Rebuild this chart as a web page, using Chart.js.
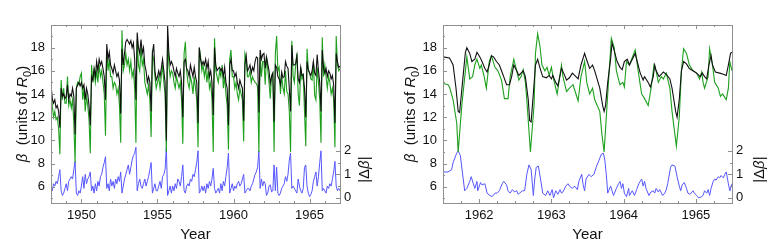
<!DOCTYPE html>
<html>
<head>
<meta charset="utf-8">
<script src="https://cdn.jsdelivr.net/npm/chart.js@4/dist/chart.umd.min.js"></script>
<style>
  html, body { margin: 0; padding: 0; background: #fff; }
  #wrap { position: relative; width: 776px; height: 247px; }
  canvas { position: absolute; top: 0; }
</style>
</head>
<body>
<div id="wrap">
  <canvas id="cLeft" width="388" height="247" style="left:0"></canvas>
  <canvas id="cRight" width="388" height="247" style="left:388px"></canvas>
</div>
<script>
// ---- data: left panel, monthly samples from 1948.0 ----
const leftStart = 1948;
const leftStep = 1 / 12;

const leftBlack = [
  14.8, 13.6, 13.2, 13.5, 12.8, 13.0, 12.5, 11.1, 14.5, 13.8, 14.0, 13.6,
  13.8, 14.8, 13.5, 14.0, 13.8, 14.5, 13.8, 10.5, 14.5, 14.8, 15.0, 14.7,
  15.0, 14.5, 14.8, 13.5, 14.5, 14.0, 13.0, 11.3, 15.5, 15.2, 16.2, 15.5,
  16.8, 16.0, 17.0, 16.5, 16.8, 16.2, 15.5, 13.5, 18.3, 17.0, 17.6, 16.5,
  16.2, 15.8, 16.5, 16.0, 15.5, 15.8, 15.2, 12.3, 17.9, 16.5, 17.5, 18.5,
  18.7, 18.5, 18.3, 18.6, 18.0, 18.4, 17.0, 13.5, 19.3, 18.0, 17.5, 18.7,
  17.5, 18.0, 16.5, 16.0, 15.0, 15.5, 15.0, 12.5, 17.5, 18.3, 16.0, 15.2,
  15.5, 16.0, 15.5, 16.2, 17.0, 16.0, 15.0, 10.0, 19.9, 17.5, 16.5, 16.8,
  16.5, 16.0, 15.5, 16.2, 15.8, 15.5, 16.0, 15.0, 12.0, 16.8, 17.0, 16.2,
  16.0, 15.5, 16.5, 16.0, 15.5, 16.3, 15.5, 15.0, 11.5, 18.0, 17.0, 16.5,
  16.8, 16.5, 17.0, 16.2, 16.8, 15.5, 16.0, 15.0, 12.2, 18.0, 16.5, 16.0,
  16.2, 16.3, 16.0, 16.2, 15.5, 16.3, 15.0, 14.5, 11.3, 16.5, 17.0, 16.0,
  16.0, 15.5, 15.8, 15.0, 14.5, 15.2, 14.8, 14.5, 11.7, 16.5, 17.3, 16.0,
  16.2, 16.5, 15.8, 16.3, 16.0, 16.8, 17.2, 17.1, 12.4, 17.8, 17.0, 17.4,
  17.5, 16.2, 17.2, 16.6, 16.0, 14.9, 15.5, 15.8, 11.6, 16.5, 16.3, 15.5,
  15.3, 14.8, 15.9, 15.4, 15.5, 16.8, 16.4, 16.2, 14.5, 12.5, 18.2, 16.5,
  16.5, 16.6, 17.3, 15.3, 15.0, 16.3, 15.6, 15.7, 14.5, 12.0, 16.8, 16.1,
  15.8, 15.6, 16.0, 16.8, 15.8, 15.6, 17.4, 16.0, 15.0, 12.5, 17.8, 16.2,
  15.8, 16.2, 15.5, 16.0, 15.8, 15.3, 15.6, 14.8, 11.5, 17.5, 16.8, 16.3,
  16.4
];

const leftGreen = [
  15.0, 13.0, 12.0, 12.5, 11.8, 12.0, 11.0, 8.8, 15.2, 13.5, 14.5, 13.2,
  13.2, 15.5, 13.0, 13.5, 12.8, 13.5, 11.5, 8.1, 14.5, 15.0, 14.8, 15.5,
  15.8, 13.5, 14.5, 12.5, 13.8, 13.0, 11.8, 8.9, 16.5, 15.0, 16.0, 15.0,
  16.0, 15.0, 16.5, 15.5, 16.0, 15.0, 14.0, 10.4, 17.8, 16.0, 17.0, 15.5,
  15.5, 14.5, 15.0, 14.8, 14.0, 14.5, 13.0, 9.8, 19.5, 16.0, 16.5, 17.5,
  16.5, 17.0, 16.0, 16.8, 15.5, 16.0, 14.5, 9.8, 18.7, 16.5, 16.0, 18.0,
  16.5, 17.0, 15.0, 14.5, 14.0, 14.8, 13.5, 10.3, 17.5, 17.0, 15.5, 14.5,
  15.0, 15.5, 14.5, 15.5, 16.5, 15.0, 14.0, 9.0, 19.0, 16.5, 15.5, 16.0,
  15.8, 15.0, 14.5, 15.5, 15.0, 14.5, 15.0, 13.5, 9.7, 17.5, 18.5, 16.0,
  15.0, 14.5, 15.5, 15.0, 14.0, 15.5, 14.5, 13.5, 9.4, 18.0, 17.2, 16.0,
  16.5, 15.5, 16.2, 15.0, 16.0, 14.5, 15.0, 13.5, 9.0, 18.8, 16.0, 15.5,
  15.0, 16.0, 15.5, 16.5, 14.5, 15.5, 14.0, 13.0, 9.2, 17.0, 17.8, 15.5,
  15.5, 14.5, 15.0, 14.0, 13.5, 14.5, 14.0, 13.5, 9.9, 17.5, 17.0, 15.5,
  15.5, 16.0, 15.0, 15.5, 15.2, 15.0, 14.9, 14.6, 9.0, 17.2, 15.5, 16.8,
  16.8, 14.8, 17.2, 16.1, 15.0, 13.6, 15.6, 15.8, 9.0, 17.5, 19.0, 16.0,
  16.3, 14.0, 15.6, 14.5, 14.0, 16.0, 14.2, 14.0, 12.5, 9.0, 18.6, 15.5,
  15.0, 16.5, 17.5, 14.0, 13.0, 16.3, 15.3, 15.6, 12.5, 9.5, 17.9, 16.1,
  15.8, 15.3, 15.2, 16.8, 13.9, 13.5, 16.3, 15.0, 13.5, 9.8, 18.9, 15.5,
  16.5, 15.5, 14.5, 15.5, 15.0, 14.0, 14.5, 13.5, 9.4, 19.0, 16.5, 16.0,
  16.2
];

const leftBlue = [
  0.4, 0.3, 0.6, 0.5, 0.7, 0.6, 0.9, 1.2, 0.3, 0.1, 0.2, 0.4,
  0.6, 0.3, 0.7, 0.8, 0.9, 0.8, 1.2, 1.55, 0.2, 0.1, 0.3, 0.2,
  0.5, 0.9, 0.4, 1.0, 0.6, 0.8, 0.9, 1.1, 0.3, 0.5, 0.2, 0.6,
  0.3, 0.7, 0.5, 0.9, 1.0, 1.3, 1.5, 1.75, 0.4, 0.6, 0.3, 0.8,
  0.5, 0.7, 0.4, 0.8, 0.6, 0.9, 0.7, 1.1, 0.2, 0.5, 0.8, 1.0,
  1.2, 1.4, 1.0, 1.3, 1.6, 1.8, 1.9, 2.15, 0.3, 0.6, 0.8, 0.5,
  0.4, 0.6, 0.8, 0.5, 0.7, 0.9, 1.2, 1.5, 0.2, 0.4, 0.6, 0.3,
  0.3, 0.5, 0.7, 0.4, 0.9, 1.0, 1.2, 2.15, 0.1, 0.3, 0.5, 0.2,
  0.5, 0.3, 0.6, 0.4, 0.8, 0.7, 0.5, 0.9, 1.4, 0.3, 0.2, 0.5,
  0.6, 0.5, 0.8, 0.7, 1.0, 0.9, 1.2, 1.5, 2.0, 0.2, 0.3, 0.5,
  0.3, 0.5, 0.2, 0.6, 0.4, 0.7, 0.5, 0.8, 1.25, 0.4, 0.2, 0.3,
  0.4, 0.2, 0.6, 0.3, 0.7, 0.5, 0.9, 1.3, 1.9, 0.2, 0.4, 0.6,
  0.3, 0.5, 0.4, 0.6, 0.7, 0.5, 0.6, 0.8, 1.0, 0.2, 0.3, 0.4,
  0.4, 0.3, 0.5, 0.6, 0.8, 1.0, 1.1, 1.3, 2.0, 0.4, 0.8, 0.5,
  0.7, 0.6, 0.1, 0.2, 0.5, 0.55, 0.25, 0.3, 1.4, 0.3, 1.3, 0.2,
  0.1, 0.2, 0.4, 0.5, 0.6, 0.9, 0.7, 1.0, 1.6, 1.9, 0.4, 0.5,
  0.4, 0.3, 0.2, 0.8, 0.5, 0.3, 0.2, 0.4, 1.3, 1.4, 0.5, 0.2,
  0.05, 0.15, 0.3, 0.7, 0.9, 1.1, 0.5, 0.9, 1.5, 2.0, 0.3, 0.4,
  0.3, 0.2, 0.5, 0.4, 0.6, 0.5, 0.8, 1.1, 1.55, 0.5, 0.3, 0.4,
  0.3
];

// ---- data: right panel (1961.5 - 1965.5) ----
const rightBlackT = [
  1961.50, 1961.59, 1961.64, 1961.68, 1961.71, 1961.73, 1961.77, 1961.81, 1961.83, 1961.87,
  1961.90, 1961.94, 1961.97, 1962.01, 1962.04, 1962.08, 1962.11, 1962.14, 1962.17, 1962.20,
  1962.24, 1962.28, 1962.31, 1962.34, 1962.38, 1962.42, 1962.45, 1962.48, 1962.52, 1962.55,
  1962.58, 1962.61, 1962.64, 1962.68, 1962.70, 1962.72, 1962.75, 1962.78, 1962.81, 1962.84,
  1962.88, 1962.93, 1962.97, 1963.00, 1963.02, 1963.06, 1963.09, 1963.14, 1963.17, 1963.21,
  1963.25, 1963.29, 1963.34, 1963.37, 1963.41, 1963.46, 1963.48, 1963.53, 1963.57, 1963.60,
  1963.67, 1963.71, 1963.73, 1963.75, 1963.78, 1963.82, 1963.84, 1963.88, 1963.91, 1963.95,
  1963.98, 1964.01, 1964.05, 1964.08, 1964.16, 1964.20, 1964.23, 1964.27, 1964.29, 1964.34,
  1964.37, 1964.41, 1964.43, 1964.45, 1964.49, 1964.52, 1964.55, 1964.59, 1964.64, 1964.67,
  1964.72, 1964.74, 1964.77, 1964.80, 1964.83, 1964.87, 1964.91, 1964.96, 1965.01, 1965.06,
  1965.09, 1965.12, 1965.15, 1965.18, 1965.21, 1965.23, 1965.27, 1965.33, 1965.38, 1965.42,
  1965.45, 1965.48, 1965.50
];
const rightBlackV = [
  17.2, 17.1, 16.5, 14.5, 12.5, 12.4, 15.0, 17.6, 18.0, 17.5,
  16.8, 17.0, 17.6, 17.2, 16.8, 16.2, 15.9, 16.5, 17.3, 17.2,
  16.8, 16.5, 16.0, 15.5, 14.8, 14.8, 15.5, 16.5, 16.0, 15.6,
  15.8, 16.0, 15.5, 13.5, 11.7, 11.6, 14.0, 16.5, 17.0, 16.3,
  15.5, 15.4, 15.6, 15.3, 15.6, 15.0, 14.7, 16.2, 15.8, 15.2,
  15.4, 15.8, 15.5, 15.3, 16.5, 17.5, 17.1, 16.2, 16.5, 16.0,
  14.5, 13.0, 12.5, 13.0, 15.0, 17.0, 18.4, 17.5, 16.8, 16.3,
  16.1, 16.8, 17.0, 16.5, 17.5, 16.5, 15.8, 15.2, 15.5, 15.0,
  14.6, 15.5, 16.5, 16.0, 15.5, 15.7, 15.9, 15.7, 15.3, 14.5,
  12.5, 12.0, 13.5, 16.0, 16.8, 16.6, 16.2, 16.0, 15.8, 15.5,
  15.8, 15.5, 15.3, 16.5, 17.3, 16.5, 15.9, 15.8, 15.7, 15.6,
  16.5, 17.5, 17.6
];

const rightGreenT = [
  1961.50, 1961.57, 1961.59, 1961.64, 1961.69, 1961.71, 1961.76, 1961.83, 1961.87, 1961.91,
  1961.94, 1961.97, 1962.01, 1962.03, 1962.07, 1962.10, 1962.14, 1962.17, 1962.22, 1962.26,
  1962.31, 1962.35, 1962.40, 1962.43, 1962.48, 1962.52, 1962.55, 1962.58, 1962.61, 1962.64,
  1962.66, 1962.71, 1962.76, 1962.78, 1962.81, 1962.84, 1962.87, 1962.91, 1962.94, 1962.97,
  1963.00, 1963.03, 1963.08, 1963.14, 1963.16, 1963.21, 1963.25, 1963.30, 1963.34, 1963.37,
  1963.41, 1963.46, 1963.49, 1963.53, 1963.57, 1963.60, 1963.67, 1963.70, 1963.73, 1963.76,
  1963.80, 1963.83, 1963.87, 1963.90, 1963.94, 1963.95, 1963.99, 1964.01, 1964.04, 1964.08,
  1964.16, 1964.19, 1964.22, 1964.25, 1964.29, 1964.34, 1964.38, 1964.42, 1964.45, 1964.48,
  1964.52, 1964.55, 1964.59, 1964.64, 1964.67, 1964.71, 1964.73, 1964.77, 1964.80, 1964.83,
  1964.87, 1964.91, 1964.96, 1965.01, 1965.05, 1965.08, 1965.10, 1965.12, 1965.17, 1965.19,
  1965.23, 1965.26, 1965.31, 1965.34, 1965.37, 1965.42, 1965.45, 1965.47, 1965.50
];
const rightGreenV = [
  14.9, 14.8, 14.6, 13.5, 11.5, 9.0, 13.0, 17.2, 15.3, 15.5,
  16.5, 17.0, 16.2, 16.5, 15.5, 14.5, 16.8, 17.3, 16.3, 16.0,
  15.2, 13.6, 13.6, 15.5, 17.0, 16.0, 15.2, 15.5, 16.1, 15.0,
  13.5, 9.0, 13.0, 17.5, 19.2, 18.2, 16.5, 16.0, 16.3, 15.6,
  16.3, 15.3, 14.0, 16.5, 15.5, 14.2, 14.5, 14.8, 14.0, 13.4,
  15.5, 16.8, 15.0, 14.0, 14.5, 13.5, 12.5, 10.5, 9.0, 12.0,
  16.0, 18.8, 18.0, 16.0, 15.0, 14.8, 15.0, 14.6, 16.8, 16.5,
  17.8, 16.5, 15.2, 14.0, 13.6, 13.0, 14.5, 16.5, 16.0, 15.0,
  15.5, 15.3, 15.8, 14.5, 12.5, 10.5, 9.5, 12.0, 16.0, 17.9,
  17.5, 16.5, 16.0, 15.8, 15.3, 15.9, 15.0, 14.5, 15.5, 17.9,
  16.5, 15.0, 14.5, 13.8, 14.0, 13.5, 14.5, 16.8, 16.0
];

const rightBlueT = [
  1961.50, 1961.57, 1961.62, 1961.64, 1961.69, 1961.71, 1961.74, 1961.78, 1961.80, 1961.83,
  1961.87, 1961.89, 1961.92, 1961.94, 1961.97, 1961.98, 1962.02, 1962.04, 1962.08, 1962.11,
  1962.15, 1962.18, 1962.22, 1962.25, 1962.28, 1962.32, 1962.34, 1962.38, 1962.40, 1962.43,
  1962.46, 1962.49, 1962.52, 1962.54, 1962.56, 1962.60, 1962.63, 1962.66, 1962.69, 1962.72,
  1962.75, 1962.77, 1962.79, 1962.82, 1962.85, 1962.88, 1962.92, 1962.95, 1962.98, 1963.01,
  1963.03, 1963.06, 1963.09, 1963.12, 1963.14, 1963.16, 1963.20, 1963.23, 1963.25, 1963.29,
  1963.32, 1963.36, 1963.38, 1963.42, 1963.44, 1963.46, 1963.48, 1963.52, 1963.55, 1963.59,
  1963.62, 1963.66, 1963.69, 1963.72, 1963.74, 1963.76, 1963.78, 1963.82, 1963.84, 1963.86,
  1963.90, 1963.93, 1963.95, 1963.97, 1963.99, 1964.01, 1964.04, 1964.07, 1964.08, 1964.12,
  1964.15, 1964.18, 1964.21, 1964.25, 1964.27, 1964.29, 1964.31, 1964.35, 1964.38, 1964.41,
  1964.43, 1964.45, 1964.48, 1964.50, 1964.54, 1964.57, 1964.59, 1964.61, 1964.65, 1964.67,
  1964.71, 1964.74, 1964.77, 1964.79, 1964.81, 1964.84, 1964.87, 1964.89, 1964.92, 1964.96,
  1964.98, 1965.01, 1965.04, 1965.08, 1965.10, 1965.12, 1965.15, 1965.17, 1965.19, 1965.21,
  1965.24, 1965.26, 1965.28, 1965.31, 1965.33, 1965.35, 1965.38, 1965.40, 1965.42, 1965.45,
  1965.47, 1965.50
];
const rightBlueV = [
  1.1, 1.1, 1.2, 1.5, 1.9, 2.0, 1.8, 0.8, 0.3, 0.4,
  0.7, 0.9, 0.6, 0.4, 0.7, 0.3, 0.65, 0.55, 0.6, 0.2,
  0.1, 0.05, 0.2, 0.2, 0.3, 0.6, 0.7, 0.55, 0.3, 0.2,
  0.35, 0.25, 0.3, 0.15, 0.2, 0.3, 0.3, 1.0, 1.4, 1.2,
  0.1, 0.8, 1.3, 1.35, 0.8, 0.2, 0.1, 0.3, 0.1, 0.35,
  0.0, 0.3, 0.15, 0.35, 0.2, 0.25, 0.5, 0.6, 0.5, 0.4,
  0.5, 0.35, 0.7, 1.0, 0.55, 0.3, 0.8, 1.0, 0.9, 1.0,
  1.3, 1.6, 1.85, 1.9, 1.6, 1.0, 0.2, 0.5, 0.3, 0.1,
  0.4, 0.6, 0.7, 0.4, 0.6, 0.2, 0.05, 0.4, 0.1, 0.3,
  0.1, 0.35, 0.6, 0.8, 0.5, 0.7, 0.4, 0.1, 0.25, 0.3,
  0.2, 0.4, 0.25, 0.35, 0.1, 0.2, 0.35, 0.6, 1.3, 1.4,
  1.35, 0.9, 0.5, 0.3, 0.55, 0.65, 0.4, 0.2, 0.15, 0.3,
  0.2, 0.1, 0.0, 0.05, 0.1, 0.3, 0.2, 0.35, 0.1, 0.4,
  0.7, 0.8, 0.75, 0.9, 0.85, 0.95, 0.85, 1.0, 1.1, 0.6,
  0.3, 0.6
];

// ---- tick labels ----
const leftYearTicks = [1950, 1955, 1960, 1965];
const rightYearTicks = [1962, 1963, 1964, 1965];
const betaTicks = [6, 8, 10, 12, 14, 16, 18];
const dBetaTicks = [0, 1, 2];

const FONT = '"Liberation Sans", Arial, sans-serif';
const TEXT = '#111111';

function pts(ts, vs) { return vs.map((v, i) => ({ x: ts[i], y: v })); }
function monthly(vs) { return vs.map((v, i) => ({ x: leftStart + i * leftStep, y: v })); }

function drawRich(ctx, pieces, cx, cy, size) {
  const fontFor = p => (p.it ? 'italic ' : '') + (p.sub ? Math.round(size * 0.72) : size) + 'px ' + FONT;
  let total = 0;
  pieces.forEach(p => { ctx.font = fontFor(p); p.w = ctx.measureText(p.t).width; total += p.w; });
  ctx.save();
  ctx.translate(cx, cy);
  ctx.rotate(-Math.PI / 2);
  ctx.textBaseline = 'middle';
  ctx.textAlign = 'left';
  ctx.fillStyle = TEXT;
  let xx = -total / 2;
  pieces.forEach(p => {
    ctx.font = fontFor(p);
    ctx.fillText(p.t, xx, p.sub ? size * 0.3 : 0);
    xx += p.w;
  });
  ctx.restore();
}

// frame, inward ticks and axis titles
const decor = {
  id: 'decor',
  afterDraw(chart, args, o) {
    const ctx = chart.ctx, a = chart.chartArea;
    const sx = chart.scales.x, sy = chart.scales.y, sy1 = chart.scales.y1;
    const near = (v, m) => Math.abs(v / m - Math.round(v / m)) < 1e-6;
    ctx.save();
    ctx.strokeStyle = '#909090';
    ctx.lineWidth = 1;
    ctx.beginPath();
    for (let k = 1; ; k++) {
      const v = o.xFrom + k * o.xMinor;
      if (v >= o.xTo - 1e-6) break;
      const px = Math.round(sx.getPixelForValue(v)) + 0.5;
      const len = near(v, o.xMajor) ? 4 : 2;
      ctx.moveTo(px, a.bottom); ctx.lineTo(px, a.bottom - len);
      ctx.moveTo(px, a.top); ctx.lineTo(px, a.top + len);
    }
    for (let v = 5; v <= 19; v++) {
      const py = Math.round(sy.getPixelForValue(v)) + 0.5;
      const len = v % 2 === 0 ? 4 : 2;
      ctx.moveTo(a.left, py); ctx.lineTo(a.left + len, py);
    }
    for (let v = 0; v <= 2; v += 0.5) {
      const py = Math.round(sy1.getPixelForValue(v)) + 0.5;
      const len = Number.isInteger(v) ? 4 : 2;
      ctx.moveTo(a.right, py); ctx.lineTo(a.right - len, py);
    }
    ctx.stroke();
    ctx.strokeRect(Math.round(a.left) + 0.5, Math.round(a.top) + 0.5,
                   Math.round(a.right - a.left), Math.round(a.bottom - a.top));

    ctx.fillStyle = TEXT;
    ctx.font = '15px ' + FONT;
    ctx.textAlign = 'center';
    ctx.textBaseline = 'middle';
    ctx.fillText('Year', (a.left + a.right) / 2, 235);

    drawRich(ctx, [{ t: 'β', it: 1 }, { t: '  (units of ' }, { t: 'R', it: 1 }, { t: '0', sub: 1 }, { t: ')' }],
             23, (a.top + a.bottom) / 2, 15);
    drawRich(ctx, [{ t: '|Δ' }, { t: 'β', it: 1 }, { t: '|' }],
             a.right + o.dbX, sy1.getPixelForValue(1.2), 15);
    ctx.restore();
  }
};

function makeChart(id, sets, xr, xTicks, leftW, rightW, deco) {
  const tickFont = { size: 13, family: FONT };
  return new Chart(document.getElementById(id), {
    type: 'line',
    data: {
      datasets: [
        { data: sets[0], borderColor: '#111111', borderWidth: 1.1, yAxisID: 'y' },
        { data: sets[1], borderColor: '#1ea01e', borderWidth: 1.1, yAxisID: 'y' },
        { data: sets[2], borderColor: '#5656ff', borderWidth: 1, yAxisID: 'y1' }
      ]
    },
    options: {
      responsive: false,
      animation: false,
      events: [],
      elements: { point: { radius: 0 }, line: { tension: 0 } },
      layout: { padding: { top: 25, left: 0, right: 0, bottom: 0 } },
      plugins: { legend: { display: false }, tooltip: { enabled: false }, decor: deco },
      scales: {
        x: {
          type: 'linear', min: xr[0], max: xr[1],
          afterBuildTicks: s => { s.ticks = xTicks.map(v => ({ value: v })); },
          afterFit: s => { s.height = 44; },
          grid: { display: false, drawTicks: false },
          border: { display: false },
          ticks: { padding: 5, font: tickFont, color: TEXT, maxRotation: 0, callback: v => String(v) }
        },
        y: {
          position: 'left', min: 4.6, max: 19.95,
          afterBuildTicks: s => { s.ticks = betaTicks.map(v => ({ value: v })); },
          afterFit: s => { s.width = leftW; },
          grid: { display: false, drawTicks: false },
          border: { display: false },
          ticks: { padding: 6, font: tickFont, color: TEXT }
        },
        y1: {
          position: 'right', min: -0.22, max: 7.35,
          afterBuildTicks: s => { s.ticks = dBetaTicks.map(v => ({ value: v })); },
          afterFit: s => { s.width = rightW; },
          grid: { display: false, drawTicks: false },
          border: { display: false },
          ticks: { padding: 4, font: tickFont, color: TEXT }
        }
      }
    },
    plugins: [decor]
  });
}

makeChart('cLeft',
  [monthly(leftBlack), monthly(leftGreen), monthly(leftBlue)],
  [1948, 1967], leftYearTicks, 51, 48,
  { xFrom: 1948, xTo: 1967, xMinor: 1, xMajor: 5, dbX: 25 });

makeChart('cRight',
  [pts(rightBlackT, rightBlackV), pts(rightGreenT, rightGreenV), pts(rightBlueT, rightBlueV)],
  [1961.5, 1965.5], rightYearTicks, 55, 44,
  { xFrom: 1961.5, xTo: 1965.5, xMinor: 0.25, xMajor: 1, dbX: 28 });
</script>
</body>
</html>
